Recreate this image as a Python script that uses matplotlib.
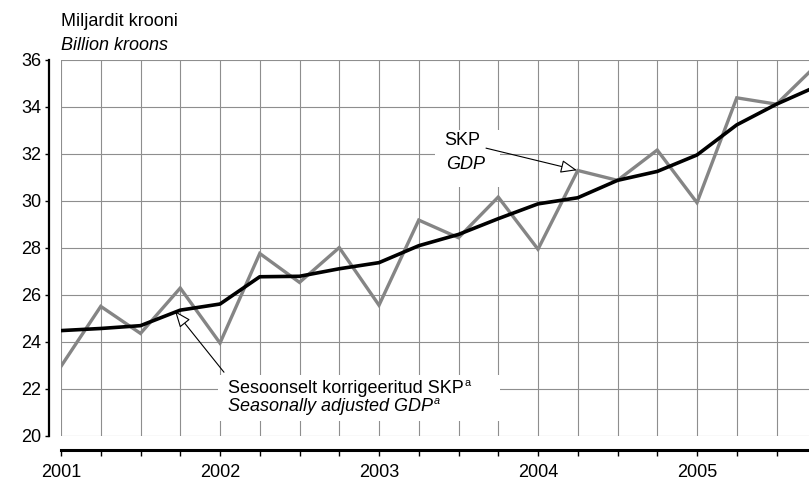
import matplotlib
matplotlib.use("Agg")
import matplotlib.pyplot as plt
from matplotlib.patches import Rectangle
import numpy as np

plt.rcParams['font.family'] = ['Liberation Sans', 'DejaVu Sans']

# ---- data ----
years = [2001, 2002, 2003, 2004, 2005]
quarters_per_year = 4
gdp = [22.95, 25.50, 24.35, 26.28,
       23.94, 27.75, 26.52, 28.00,
       25.55, 29.17, 28.42, 30.15,
       27.93, 31.28, 30.86, 32.15,
       29.91, 34.37, 34.10, 35.75]
gdp_sa = [24.47, 24.56, 24.68, 25.34,
          25.60, 26.76, 26.78, 27.10,
          27.36, 28.08, 28.56, 29.23,
          29.86, 30.12, 30.86, 31.24,
          31.94, 33.22, 34.10, 34.85]
year_labels = ['2001', '2002', '2003', '2004', '2005']
y_ticks = [20, 22, 24, 26, 28, 30, 32, 34, 36]

FS = 13

x = np.array([y + q / quarters_per_year for y in years for q in range(quarters_per_year)])

W, H = 809, 480
fig = plt.figure(figsize=(W / 100, H / 100), dpi=100)
ax = fig.add_axes([61 / W, 1 - 435.7 / H, 748 / W, (435.7 - 59.5) / H])

x_right = 2001 + 748 / 159
ax.set_xlim(2001, x_right)
ax.set_ylim(20, 36)

# grid
ax.set_xticks(x[x <= x_right + 1e-9])
ax.set_xticklabels([])
ax.set_yticks(y_ticks)
ax.set_yticklabels([str(t) for t in y_ticks])
ax.grid(True, color='#8e8e8e', linewidth=0.8)
ax.set_axisbelow(True)

# lines
ax.plot(x, gdp, color='#858585', linewidth=2.4, zorder=3, solid_joinstyle='miter')
ax.plot(x, gdp_sa, color='black', linewidth=2.6, zorder=4, solid_joinstyle='round')

# spines
for s in ['top', 'right']:
    ax.spines[s].set_visible(False)
ax.spines['left'].set_position(('outward', 9))
ax.spines['left'].set_linewidth(1.6)
ax.spines['bottom'].set_position(('outward', 10))
ax.spines['bottom'].set_linewidth(2.2)
ax.tick_params(axis='y', length=3, width=1.0, pad=2, labelsize=FS)
ax.tick_params(axis='x', length=4.5, width=1.0, pad=2)

# year labels on bottom axis
for yr, lab in zip(years, year_labels):
    ax.annotate(lab, xy=(yr, 0), xycoords=('data', 'axes fraction'),
                xytext=(0, -20.5), textcoords='offset points',
                ha='center', va='top', fontsize=FS, annotation_clip=False)

# white boxes behind annotation texts
ax.add_patch(Rectangle((2001.987, 20.62), 2003.761 - 2001.987, 22.58 - 20.62,
                       facecolor='white', edgecolor='none', zorder=1))
ax.add_patch(Rectangle((2003.352, 30.57), 2003.761 - 2003.352, 32.99 - 30.57,
                       facecolor='white', edgecolor='none', zorder=1))

# annotations
ax.text(2003.409, 32.37, 'SKP', fontsize=FS, ha='left', va='baseline', zorder=5)
ax.text(2003.421, 31.36, 'GDP', fontsize=FS, ha='left', va='baseline', style='italic', zorder=5)
ax.annotate('', xy=(2004.245, 31.29), xytext=(2003.673, 32.23),
            arrowprops=dict(arrowstyle='-|>,head_length=1.0,head_width=0.4', fc='white', ec='black',
                            lw=0.8, shrinkA=0, shrinkB=0), zorder=6)

ax.text(2002.05, 21.81, 'Sesoonselt korrigeeritud SKP', fontsize=FS,
        ha='left', va='baseline', zorder=5)
ax.text(2002.05, 21.04, 'Seasonally adjusted GDP', fontsize=FS,
        ha='left', va='baseline', style='italic', zorder=5)
# superscript "a" markers placed right after the texts
fig.canvas.draw()
r = fig.canvas.get_renderer()
for t in list(ax.texts[-2:]):
    bb = t.get_window_extent(renderer=r)
    xd, _ = ax.transData.inverted().transform((bb.x1 + 0.5, bb.y0))
    ax.text(xd, t.get_position()[1] + 0.32, 'a', fontsize=FS * 0.6, ha='left', va='baseline',
            style=t.get_style(), zorder=5)
ax.annotate('', xy=(2001.717, 25.30), xytext=(2002.025, 22.70),
            arrowprops=dict(arrowstyle='-|>,head_length=1.0,head_width=0.4', fc='white', ec='black',
                            lw=0.8, shrinkA=0, shrinkB=0), zorder=6)

# axis title
fig.text(61 / W, 1 - 26 / H, 'Miljardit krooni', fontsize=FS, ha='left', va='baseline')
fig.text(61 / W, 1 - 49.5 / H, 'Billion kroons', fontsize=FS, ha='left', va='baseline', style='italic')

fig.savefig('out.png', dpi=100)
